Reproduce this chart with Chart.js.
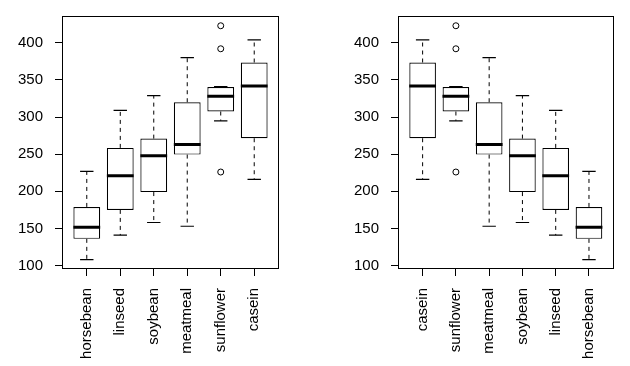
<!DOCTYPE html>
<html>
<head>
<meta charset="utf-8">
<script src="https://cdn.jsdelivr.net/npm/chart.js@4"></script>
<style>
  body { margin: 0; background: #fff; }
  .panel { position: absolute; top: 0; }
</style>
</head>
<body>
<canvas id="left" class="panel" width="315" height="366" style="left:0"></canvas>
<canvas id="right" class="panel" width="315" height="366" style="left:315px"></canvas>
<script>
// chickwts: weight by feed, boxplot stats
const feeds = ['horsebean', 'linseed', 'soybean', 'meatmeal', 'sunflower', 'casein'];
const lowWhisker = [108, 141, 158, 153, 295, 216];
const q1 = [136, 175, 199, 249.5, 307.5, 271.5];
const median = [151.5, 221, 248, 263, 328, 342];
const q3 = [179, 258.5, 271, 320, 340.5, 373.5];
const highWhisker = [227, 309, 329, 380, 341, 404];
const outlierFeed = ['sunflower', 'sunflower', 'sunflower'];
const outlierValue = [226, 392, 423];

const leftOrder = feeds;
const rightOrder = ['casein', 'sunflower', 'meatmeal', 'soybean', 'linseed', 'horsebean'];
const yTicks = [100, 150, 200, 250, 300, 350, 400];

const font = { family: "Arial, 'Liberation Sans', sans-serif", size: 15 };

const framePlugin = {
    id: 'frame',
    afterDraw(chart) {
        const { ctx, chartArea: a } = chart;
        ctx.save();
        ctx.strokeStyle = '#000';
        ctx.lineWidth = 1;
        ctx.strokeRect(Math.round(a.left) + 0.5, Math.round(a.top) + 0.5,
            Math.round(a.right - a.left) - 1, Math.round(a.bottom - a.top) - 1);
        ctx.restore();
    }
};

function buildChart(id, order, axisWidth, padRight) {
    const idx = order.map(f => feeds.indexOf(f));

    const boxes = idx.map((k, i) => ({ x: i + 1, y: [q1[k], q3[k]] }));
    const medians = idx.map((k, i) => ({ x: i + 1, y: median[k] }));
    const caps = [];
    const whiskers = [];
    idx.forEach((k, i) => {
        caps.push({ x: i + 1, y: lowWhisker[k] }, { x: i + 1, y: highWhisker[k] });
        whiskers.push({ x: i + 1, y: q3[k] }, { x: i + 1, y: highWhisker[k] }, { x: i + 1, y: null });
        whiskers.push({ x: i + 1, y: q1[k] }, { x: i + 1, y: lowWhisker[k] }, { x: i + 1, y: null });
    });
    const outliers = outlierValue.map((v, j) => ({ x: order.indexOf(outlierFeed[j]) + 1, y: v }));

    return new Chart(document.getElementById(id), {
        type: 'bar',
        data: {
            datasets: [
                {
                    type: 'scatter', data: medians, order: 0,
                    pointStyle: 'line', pointRadius: 13.4, pointHoverRadius: 13.4,
                    pointBorderWidth: 3, pointBorderColor: '#000'
                },
                {
                    type: 'scatter', data: caps, order: 1,
                    pointStyle: 'line', pointRadius: 6.7, pointHoverRadius: 6.7,
                    pointBorderWidth: 1.2, pointBorderColor: '#000'
                },
                {
                    type: 'scatter', data: outliers, order: 1,
                    pointStyle: 'circle', pointRadius: 3, pointHoverRadius: 3,
                    pointBorderWidth: 1, pointBorderColor: '#000',
                    pointBackgroundColor: 'rgba(0,0,0,0)'
                },
                {
                    type: 'line', data: whiskers, order: 2,
                    borderColor: '#000', borderWidth: 1, borderDash: [4, 4],
                    pointRadius: 0, fill: false, spanGaps: false
                },
                {
                    data: boxes, order: 3,
                    backgroundColor: '#fff', borderColor: '#000', borderWidth: 1.2,
                    borderSkipped: false, barPercentage: 0.8, categoryPercentage: 1.0
                }
            ]
        },
        options: {
            responsive: false,
            animation: false,
            layout: { padding: { top: 14, right: padRight, left: 0, bottom: 0 } },
            plugins: { legend: { display: false }, tooltip: { enabled: false } },
            scales: {
                x: {
                    type: 'linear', min: 0.26, max: 6.74, offset: false,
                    afterFit(scale) {
                        scale.height = 97;
                        scale.paddingLeft = 0;
                        scale.paddingRight = 0;
                    },
                    border: { display: false },
                    grid: { offset: false, drawOnChartArea: false, tickLength: 7, color: '#000' },
                    ticks: {
                        stepSize: 1, includeBounds: false, autoSkip: false,
                        minRotation: 90, maxRotation: 90, padding: 12,
                        color: '#000', font: font,
                        callback: v => order[v - 1] || ''
                    }
                },
                y: {
                    type: 'linear', min: 95.4, max: 435.6,
                    afterFit(scale) {
                        scale.width = axisWidth;
                        scale.paddingTop = 0;
                        scale.paddingBottom = 0;
                    },
                    afterBuildTicks(scale) { scale.ticks = yTicks.map(v => ({ value: v })); },
                    border: { display: false },
                    grid: { drawOnChartArea: false, tickLength: 7, color: '#000' },
                    ticks: { padding: 12, color: '#000', font: font }
                }
            }
        },
        plugins: [framePlugin]
    });
}

buildChart('left', leftOrder, 62, 36);
buildChart('right', rightOrder, 83, 15);
</script>
</body>
</html>
